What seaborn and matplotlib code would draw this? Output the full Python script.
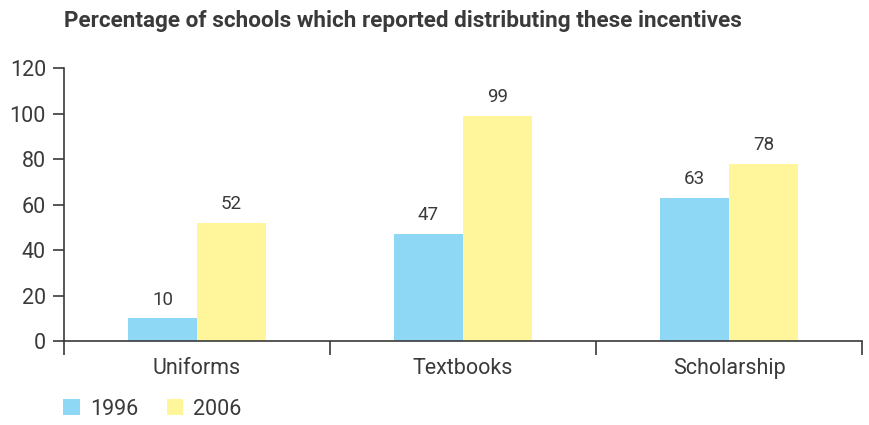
import pandas as pd
import numpy as np
import matplotlib
matplotlib.use("Agg")
import matplotlib.pyplot as plt
import seaborn as sns
from matplotlib.patches import Patch

# Data
categories = ["Uniforms", "Textbooks", "Scholarship"]
years = ["1996", "2006"]
values_1996 = [10, 47, 63]
values_2006 = [52, 99, 78]

df = pd.DataFrame({
    "incentive": categories * 2,
    "year": [years[0]] * 3 + [years[1]] * 3,
    "percent": values_1996 + values_2006,
})

palette = {"1996": "#8ED8F5", "2006": "#FFF59A"}
text_color = "#3a3a3a"

sns.set_style("white")
plt.rcParams["font.family"] = ["Roboto", "DejaVu Sans"]

fig = plt.figure(figsize=(8.7, 4.25), dpi=100)
ax = fig.add_axes([0.0736, 0.1976, 0.9172, 0.6424])

sns.barplot(data=df, x="incentive", y="percent", hue="year", palette=palette,
            order=categories, hue_order=years, width=0.52, saturation=1,
            linewidth=0, legend=False, ax=ax)

# value labels
for container in ax.containers:
    ax.bar_label(container, padding=7, fontsize=13.5, color=text_color)

ax.set_xlim(-0.5, 2.5)
ax.set_ylim(0, 120)
ax.set_yticks(range(0, 121, 20))
ax.set_xlabel("")
ax.set_ylabel("")

sns.despine(ax=ax, top=True, right=True)
for s in ["left", "bottom"]:
    ax.spines[s].set_color(text_color)
    ax.spines[s].set_linewidth(1.2)

ax.tick_params(axis="y", direction="out", length=8, width=1.2, colors=text_color,
               labelsize=15.5, pad=5, left=True)
ax.tick_params(axis="x", which="major", length=0, labelsize=15.5, colors=text_color, pad=12)
ax.set_xticks([-0.5, 0.5, 1.5, 2.5], minor=True)
ax.tick_params(axis="x", which="minor", direction="out", length=10, width=1.2,
               color=text_color, bottom=True)

fig.text(0.0736, 0.95, "Percentage of schools which reported distributing these incentives",
         fontsize=16.2, fontweight="bold", color=text_color, ha="left", va="center")

handles = [Patch(facecolor=palette[y], edgecolor="none", label=y) for y in years]
fig.legend(handles=handles, loc="lower left", bbox_to_anchor=(0.058, -0.018), ncol=2,
           frameon=False, fontsize=15.5, handlelength=0.75, handleheight=0.75,
           handletextpad=0.5, columnspacing=1.3, labelcolor=text_color,
           borderaxespad=0.2)

fig.savefig("out.png", dpi=100)
